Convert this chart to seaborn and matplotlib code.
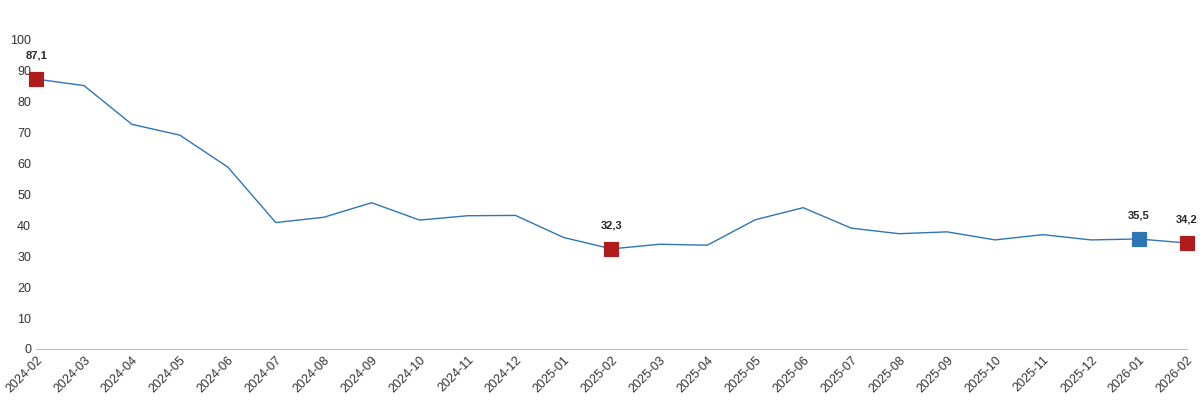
import matplotlib
matplotlib.use("Agg")
import matplotlib.pyplot as plt
import seaborn as sns
import pandas as pd

months = ["2024-02", "2024-03", "2024-04", "2024-05", "2024-06", "2024-07", "2024-08",
          "2024-09", "2024-10", "2024-11", "2024-12", "2025-01", "2025-02", "2025-03",
          "2025-04", "2025-05", "2025-06", "2025-07", "2025-08", "2025-09", "2025-10",
          "2025-11", "2025-12", "2026-01", "2026-02"]
values = [87.1, 85.0, 72.5, 69.0, 58.7, 40.8, 42.5, 47.2, 41.6, 43.0, 43.1, 36.0, 32.3,
          33.8, 33.5, 41.7, 45.6, 39.0, 37.2, 37.8, 35.2, 36.9, 35.2, 35.5, 34.2]
red_months = ["2024-02", "2025-02", "2026-02"]
blue_months = ["2026-01"]

df = pd.DataFrame({"month": months, "value": values})
df["x"] = range(len(df))

sns.set_style("white")
plt.rcParams["font.family"] = ["Liberation Sans", "DejaVu Sans"]

fig = plt.figure(figsize=(12, 4.03), dpi=100)
ax = fig.add_axes([0.03, 0.134, 0.959, 0.769])

sns.lineplot(data=df, x="x", y="value", ax=ax, color="#2e75b6", linewidth=1)

for group, color in [(red_months, "#b01c1c"), (blue_months, "#2e75b6")]:
    sub = df[df["month"].isin(group)]
    pts = sns.scatterplot(data=sub, x="x", y="value", ax=ax, marker="s", s=110,
                          color=color, edgecolor=color, zorder=5, legend=False)
    for _, r in sub.iterrows():
        ax.text(r["x"], r["value"] + 6, f"{r['value']:.1f}".replace(".", ","),
                ha="center", va="bottom", fontsize=8, fontweight="bold")
for coll in ax.collections:
    coll.set_clip_on(False)

ax.set_xlim(0, len(df) - 1)
ax.set_ylim(0, 100)
ax.set_yticks(range(0, 101, 10))
ax.set_xticks(df["x"])
ax.set_xticklabels(months, rotation=45, ha="right", rotation_mode="anchor")
ax.tick_params(axis="both", labelsize=9, colors="#333333", length=0)
ax.set_xlabel("")
ax.set_ylabel("")
for s in ["top", "right", "left"]:
    ax.spines[s].set_visible(False)
ax.spines["bottom"].set_color("#bfbfbf")

fig.savefig("out.png", dpi=100)
